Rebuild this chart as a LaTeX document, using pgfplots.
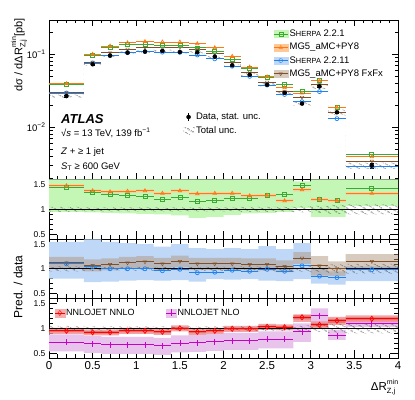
\documentclass[border=0pt]{standalone}
\usepackage{fontspec}
\setmainfont{Liberation Sans}
\usepackage{pgfplots}
\pgfplotsset{compat=1.18}
\usepackage{pgfplotstable}
\usepgfplotslibrary{fillbetween}
\usetikzlibrary{patterns.meta}

\definecolor{cgr}{RGB}{60,170,50}
\definecolor{cor}{RGB}{255,120,20}
\definecolor{cbl}{RGB}{30,130,240}
\definecolor{cbr}{RGB}{130,80,40}
\definecolor{cnn}{RGB}{255,0,0}
\definecolor{cnl}{RGB}{200,0,200}
\definecolor{bgr}{RGB}{196,246,182}
\definecolor{bor}{RGB}{255,200,150}
\definecolor{bbl}{RGB}{192,216,248}
\definecolor{bbr}{RGB}{175,150,125}
\definecolor{bnn}{RGB}{240,140,140}
\definecolor{bnd}{RGB}{215,85,85}
\definecolor{bnl}{RGB}{232,195,236}

% bin centres, half widths, data and predictions (top), ratios (bottom panels)
\pgfplotstableread{
x   ex  dat     de     g       o       b       r       gr   or   br   rr   n    m
0.2 0.2 0.0266  0.0006 0.0380  0.0391  0.0293  0.0298  1.43 1.47 1.10 1.12 0.95 0.72
0.5 0.1 0.0722  0.0012 0.0960  0.0989  0.0751  0.0773  1.33 1.37 1.04 1.07 0.92 0.69
0.7 0.1 0.0948  0.0015 0.1232  0.1280  0.0948  0.1033  1.30 1.35 1.00 1.09 0.92 0.67
0.9 0.1 0.104   0.0016 0.1331  0.1414  0.1040  0.1165  1.28 1.36 1.00 1.12 0.95 0.67
1.1 0.1 0.1075  0.0016 0.1355  0.1473  0.1075  0.1226  1.26 1.37 1.00 1.14 0.95 0.67
1.3 0.1 0.110   0.0016 0.1320  0.1452  0.1056  0.1210  1.20 1.32 0.96 1.10 0.93 0.65
1.5 0.1 0.106   0.0016 0.1304  0.1452  0.1049  0.1219  1.23 1.37 0.99 1.15 1.00 0.70
1.7 0.1 0.105   0.0016 0.1208  0.1376  0.0966  0.1155  1.15 1.31 0.92 1.10 0.93 0.71
1.9 0.1 0.092   0.0015 0.1076  0.1214  0.0856  0.1012  1.17 1.32 0.93 1.10 0.95 0.73
2.1 0.1 0.070   0.0012 0.0847  0.0924  0.0679  0.0770  1.21 1.32 0.97 1.10 0.99 0.75
2.3 0.1 0.052   0.0010 0.0634  0.0660  0.0494  0.0567  1.22 1.27 0.95 1.09 0.99 0.75
2.5 0.1 0.038   0.0008 0.0483  0.0486  0.0376  0.0414  1.27 1.28 0.99 1.09 1.03 0.78
2.7 0.1 0.0295  0.0007 0.0384  0.0345  0.0280  0.0310  1.30 1.17 0.95 1.05 1.02 0.78
2.9 0.1 0.021   0.0006 0.0309  0.0292  0.0223  0.0256  1.47 1.39 1.06 1.22 1.22 0.93
3.1 0.1 0.036   0.0009 0.0432  0.0432  0.0306  0.0382  1.20 1.20 0.85 1.06 1.07 1.25
3.3 0.1 0.016   0.0006 0.0187  0.0187  0.0131  0.0160  1.17 1.17 0.82 1.00 1.15 0.85
3.7 0.3 0.0030  0.0002 0.00426 0.00396 0.00294 0.00345 1.42 1.32 0.98 1.15 1.19 1.09
}\pts

% bands per bin (lower edges, last row closes the final bin)
\pgfplotstableread{
x   tl      th      hl   hh   gl   gh   ol   oh   bl   bh   rl   rh   nl   nh   il    ih    ml   mh
0.0 0.02527 0.02793 0.95 1.05 0.95 1.60 1.44 1.50 0.80 1.55 1.00 1.24 0.89 1.01 0.925 0.975 0.54 0.88
0.4 0.06931 0.07509 0.96 1.04 0.94 1.60 1.34 1.40 0.73 1.60 0.95 1.19 0.86 0.98 0.895 0.945 0.51 0.85
0.6 0.09101 0.09859 0.96 1.04 0.93 1.60 1.32 1.38 0.74 1.55 0.97 1.21 0.86 0.98 0.895 0.945 0.49 0.83
0.8 0.09984 0.10816 0.96 1.04 0.92 1.60 1.33 1.39 0.76 1.52 1.00 1.24 0.89 1.01 0.925 0.975 0.49 0.83
1.0 0.1032  0.1118  0.96 1.04 0.91 1.60 1.34 1.40 0.77 1.50 1.02 1.26 0.89 1.01 0.925 0.975 0.49 0.83
1.2 0.1056  0.1144  0.96 1.04 0.90 1.60 1.29 1.35 0.76 1.45 0.98 1.22 0.87 0.99 0.905 0.955 0.47 0.81
1.4 0.10176 0.11024 0.96 1.04 0.88 1.60 1.34 1.40 0.77 1.50 1.03 1.27 0.94 1.06 0.975 1.025 0.52 0.86
1.6 0.1008  0.1092  0.96 1.04 0.83 1.60 1.28 1.34 0.74 1.42 0.98 1.22 0.87 0.99 0.905 0.955 0.53 0.87
1.8 0.08832 0.09568 0.96 1.04 0.85 1.60 1.29 1.35 0.79 1.40 0.98 1.22 0.89 1.01 0.925 0.975 0.55 0.89
2.0 0.0672  0.0728  0.96 1.04 0.89 1.60 1.29 1.35 0.78 1.42 0.98 1.22 0.93 1.05 0.965 1.015 0.57 0.91
2.2 0.0494  0.0546  0.95 1.05 0.92 1.60 1.24 1.30 0.79 1.40 0.97 1.21 0.93 1.05 0.965 1.015 0.57 0.91
2.4 0.0361  0.0399  0.95 1.05 0.93 1.60 1.25 1.31 0.76 1.46 0.97 1.21 0.97 1.09 1.005 1.055 0.60 0.94
2.6 0.02803 0.03098 0.95 1.05 0.95 1.60 1.14 1.20 0.75 1.40 0.93 1.17 0.96 1.08 0.995 1.045 0.60 0.94
2.8 0.01974 0.02226 0.94 1.06 1.03 1.56 1.36 1.42 0.79 1.52 1.10 1.34 1.13 1.28 1.18  1.26  0.73 1.10
3.0 0.03348 0.03852 0.93 1.07 0.85 1.60 1.17 1.23 0.70 1.02 0.86 1.26 1.00 1.14 1.04  1.10  1.08 1.40
3.2 0.01456 0.01744 0.91 1.09 0.85 1.60 1.14 1.20 0.68 0.95 0.85 1.15 1.07 1.23 1.11  1.19  0.77 0.97
3.4 0.0027  0.0033  0.90 1.10 1.07 1.60 1.29 1.35 0.75 1.05 1.00 1.30 1.12 1.26 1.16  1.22  1.03 1.15
4.0 0.0027  0.0033  0.90 1.10 1.07 1.60 1.29 1.35 0.75 1.05 1.00 1.30 1.12 1.26 1.16  1.22  1.03 1.15
}\bands

\newcommand{\band}[4]{%
  \addplot[name path=#1l, draw=none, const plot, forget plot] table[x=x, y=#2] {\bands};
  \addplot[name path=#1h, draw=none, const plot, forget plot] table[x=x, y=#3] {\bands};
  \addplot[#4, forget plot] fill between[of=#1l and #1h];
}
\newcommand{\pred}[4]{% colour, mark, column, extra
  \addplot[#1, only marks, mark=#2, mark size=2pt, mark options={solid, line width=0.7pt}, forget plot, #4,
    error bars/.cd, x dir=both, x explicit, error mark=none,
    error bar style={#1, line width=0.9pt}] table[x=x, y=#3, x error=ex] {\pts};
}
% Delta R with stacked min / Z,j
\newcommand{\dR}{ΔR\rlap{\raisebox{6.2pt}{\fontsize{7}{7}\selectfont min}}\raisebox{-3pt}{\fontsize{7.5}{8}\selectfont Z,j}}

\tikzset{hatch/.style={pattern={Lines[angle=-30, distance=4pt, line width=0.5pt]}, pattern color=black, draw=none}}

\pgfplotsset{
  /pgf/number format/assume math mode=true,
  base/.style={anchor=south west, scale only axis, width=349pt, xmin=0, xmax=4,
    xtick={0,0.5,...,4}, minor x tick num=4, xticklabels={},
    axis line style={line width=0.8pt}, tick style={black, line width=0.6pt}},
  rat/.style={base, height=60pt, ymin=0.4, ymax=1.6, ytick={0.5,1,1.5}, minor y tick num=4,
    major tick length=8pt, minor tick length=4pt,
    yticklabel style={font=\fontsize{8.5}{9}\selectfont}},
}

\begin{document}
\begin{tikzpicture}[x=1pt, y=1pt]

% ---- main panel
\begin{axis}[base, at={(49pt,219.7pt)}, height=159.3pt,
  ymode=log, ymin=0.00195, ymax=0.29,
  ytick={0.01,0.1}, yticklabels={10\textsuperscript{−2}, 10\textsuperscript{−1}},
  minor ytick={0.002,0.003,0.004,0.005,0.006,0.007,0.008,0.009,0.02,0.03,0.04,0.05,0.06,0.07,0.08,0.09,0.2},
  major tick length=6pt, minor tick length=3.5pt,
  yticklabel style={font=\fontsize{9.5}{10}\selectfont},
  legend style={at={(0.642,0.95)}, anchor=north west, draw=none, fill=none,
    font=\fontsize{9.5}{11}\selectfont, row sep=1.2pt, inner sep=0pt,
    nodes={inner sep=1.5pt, text height=7pt, text depth=2pt}},
  legend cell align=left]
\band{mt}{tl}{th}{hatch}
\pred{cbl}{o}{b}{}
\pred{cbr}{triangle}{r}{mark options={rotate=180}}
\pred{cgr}{square}{g}{}
\pred{cor}{triangle}{o}{}
\addplot[black, only marks, mark=*, mark size=2pt, forget plot,
  error bars/.cd, y dir=both, y explicit, error bar style={black, line width=0.7pt}]
  table[x=x, y=dat, y error=de] {\pts};
\addlegendimage{legend image code/.code={\fill[bgr] (0pt,-3.5pt) rectangle (14pt,3.5pt);
  \draw[cgr, line width=0.9pt] (0pt,0pt) -- (14pt,0pt);
  \draw[cgr, mark=square, mark size=2pt] plot coordinates {(7pt,0pt)};}}
\addlegendentry{S{\fontsize{7.4}{9}\selectfont HERPA} 2.2.1}
\addlegendimage{legend image code/.code={\fill[bor] (0pt,-3.5pt) rectangle (14pt,3.5pt);
  \draw[cor, line width=0.9pt] (0pt,0pt) -- (14pt,0pt);
  \draw[cor, mark=triangle, mark size=2pt] plot coordinates {(7pt,0pt)};}}
\addlegendentry{MG5\_aMC+PY8}
\addlegendimage{legend image code/.code={\fill[bbl] (0pt,-3.5pt) rectangle (14pt,3.5pt);
  \draw[cbl, line width=0.9pt] (0pt,0pt) -- (14pt,0pt);
  \draw[cbl, mark=o, mark size=2pt] plot coordinates {(7pt,0pt)};}}
\addlegendentry{S{\fontsize{7.4}{9}\selectfont HERPA} 2.2.11}
\addlegendimage{legend image code/.code={\fill[bbr!50] (0pt,-3.5pt) rectangle (14pt,3.5pt);
  \draw[cbr, line width=0.9pt] (0pt,0pt) -- (14pt,0pt);
  \draw[cbr, mark=triangle, mark size=2pt, mark options={rotate=180}] plot coordinates {(7pt,0pt)};}}
\addlegendentry{MG5\_aMC+PY8 FxFx}
\end{axis}

% data legend in the main panel
\begin{axis}[at={(49pt,219.7pt)}, anchor=south west, scale only axis, width=349pt, height=159.3pt,
  hide axis, xmin=0, xmax=1, ymin=0, ymax=1,
  legend style={at={(0.385,0.43)}, anchor=north west, draw=none, fill=none,
    font=\fontsize{9.5}{11}\selectfont, row sep=2pt, inner sep=0pt,
    nodes={inner sep=1.5pt, text height=7pt, text depth=2pt}},
  legend cell align=left]
\addplot[draw=none, forget plot] coordinates {(0,0) (1,1)};
\addlegendimage{legend image code/.code={\draw[black, line width=0.7pt] (5pt,-4pt) -- (5pt,4pt);
  \fill[black] (5pt,0pt) circle (2pt);}}
\addlegendentry{Data, stat. unc.}
\addlegendimage{legend image code/.code={\fill[hatch] (0pt,-3.5pt) rectangle (11pt,3.5pt);}}
\addlegendentry{Total unc.}
\end{axis}

% ---- ratio 1
\begin{axis}[rat, at={(49pt,159.7pt)}]
\band{ga}{gl}{gh}{fill=bgr}
\band{oa}{ol}{oh}{fill=bor, fill opacity=0.7}
\band{ha}{hl}{hh}{hatch}
\addplot[black, line width=0.9pt, forget plot] coordinates {(0,1) (4,1)};
\pred{cgr}{square}{gr}{}
\pred{cor}{triangle}{or}{}
\end{axis}

% ---- ratio 2
\begin{axis}[rat, at={(49pt,100.7pt)}, height=59pt]
\band{ba}{bl}{bh}{fill=bbl}
\band{ra}{rl}{rh}{fill=bbr, fill opacity=0.5}
\band{hb}{hl}{hh}{hatch}
\addplot[black, line width=0.9pt, forget plot] coordinates {(0,1) (4,1)};
\pred{cbl}{o}{br}{}
\pred{cbr}{triangle}{rr}{mark options={rotate=180}}
\end{axis}

% ---- ratio 3
\begin{axis}[rat, at={(49pt,40.7pt)},
  xticklabels={0,0.5,1,1.5,2,2.5,3,3.5,4},
  xticklabel style={font=\fontsize{11.5}{12}\selectfont},
  legend columns=2,
  legend style={at={(0.015,0.755)}, anchor=west, draw=none, fill=none,
    font=\fontsize{9}{10}\selectfont, inner sep=0pt,
    nodes={inner sep=1pt}, /tikz/every even column/.append style={column sep=30pt}},
  legend cell align=left]
\band{ma}{ml}{mh}{fill=bnl}
\band{na}{nl}{nh}{fill=bnn, fill opacity=0.8}
\band{ia}{il}{ih}{fill=bnd, fill opacity=0.6}
\band{hc}{hl}{hh}{hatch}
\addplot[black, line width=0.9pt, forget plot] coordinates {(0,1) (4,1)};
\pred{cnl}{+}{m}{mark size=3pt}
\pred{cnn}{diamond}{n}{mark size=2.6pt}
\addlegendimage{legend image code/.code={\fill[bnn!70] (-5pt,-4pt) rectangle (5pt,4pt);
  \draw[cnn, line width=0.8pt] (-5pt,0pt) -- (5pt,0pt);
  \draw[cnn, mark=diamond, mark size=2.6pt] plot coordinates {(0pt,0pt)};}}
\addlegendentry{NNLOJET NNLO}
\addlegendimage{legend image code/.code={\fill[bnl] (-5pt,-4pt) rectangle (5pt,4pt);
  \draw[cnl, line width=0.8pt] (-5pt,0pt) -- (5pt,0pt);
  \draw[cnl, mark=+, mark size=3.5pt, line width=0.8pt] plot coordinates {(0pt,0pt)};}}
\addlegendentry{NNLOJET NLO}
\end{axis}

% ---- labels and text
\node[rotate=90, anchor=east, inner sep=0pt, font=\fontsize{11}{12}\selectfont] at (19,381)
  {dσ / d\dR\ [pb]};
\node[rotate=90, inner sep=0pt, font=\fontsize{12}{13}\selectfont] at (18,112) {Pred. / data};
\node[anchor=east, inner sep=0pt, font=\fontsize{11.5}{12}\selectfont] at (398,12)
  {\dR\hphantom{i}};
\node[anchor=base west, inner sep=0pt, font=\fontsize{13}{13}\bfseries\itshape] at (61,275) {ATLAS};
\node[anchor=base west, inner sep=0pt, font=\fontsize{9.5}{11}\selectfont] at (61,262.5)
  {√\textit{s} = 13 TeV, 139 fb\textsuperscript{−1}};
\node[anchor=base west, inner sep=0pt, font=\fontsize{9.5}{11}\selectfont] at (61,244.5)
  {\textit{Z} + ≥ 1 jet};
\node[anchor=base west, inner sep=0pt, font=\fontsize{9.5}{11}\selectfont] at (61,229.5)
  {\textit{S}\textsubscript{T} ≥ 600 GeV};

\pgfresetboundingbox
\path (0,0) rectangle (415,399);
\end{tikzpicture}
\end{document}
